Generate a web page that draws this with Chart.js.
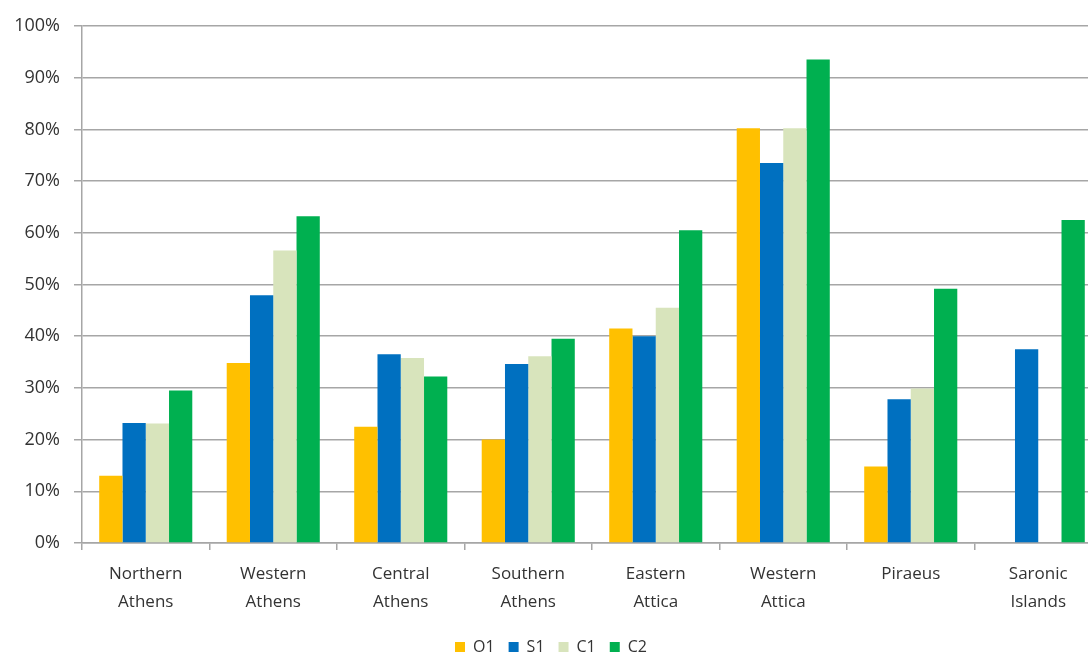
<!DOCTYPE html>
<html>
<head>
<meta charset="utf-8">
<script src="https://cdn.jsdelivr.net/npm/chart.js@4"></script>
<style>
  html, body { margin: 0; padding: 0; background: #fff; overflow: hidden; }
  #wrap { width: 1130px; height: 655px; }
</style>
</head>
<body>
<div id="wrap"><canvas id="chart" width="1130" height="655"></canvas></div>
<script>
const regions = [
    ["Northern", "Athens"], ["Western", "Athens"], ["Central", "Athens"], ["Southern", "Athens"],
    ["Eastern", "Attica"], ["Western", "Attica"], "Piraeus", ["Saronic", "Islands"]
];
const seriesNames = ["O1", "S1", "C1", "C2"];
const seriesColors = ["#ffc000", "#0070c0", "#d8e4bc", "#00b050"];

// share of each region, in percent
const valuesO1 = [13.0, 34.8, 22.5, 20.0, 41.5, 80.2, 14.8, null];
const valuesS1 = [23.2, 47.9, 36.5, 34.6, 40.0, 73.5, 27.8, 37.5];
const valuesC1 = [23.1, 56.6, 35.8, 36.1, 45.5, 80.2, 29.9, null];
const valuesC2 = [29.5, 63.2, 32.2, 39.5, 60.5, 93.5, 49.2, 62.5];

const yTicks = [0, 10, 20, 30, 40, 50, 60, 70, 80, 90, 100];

const allValues = [valuesO1, valuesS1, valuesC1, valuesC2];
const gridColor = "#a6a6a6";
const textColor = "#333333";

Chart.defaults.font.family = "'Open Sans', 'DejaVu Sans', sans-serif";
Chart.defaults.font.size = 16;
Chart.defaults.color = textColor;

new Chart(document.getElementById("chart"), {
    type: "bar",
    data: {
        labels: regions,
        datasets: seriesNames.map((name, i) => ({
            label: name,
            data: allValues[i],
            backgroundColor: seriesColors[i],
            borderWidth: 0,
            categoryPercentage: 0.73,
            barPercentage: 1.0
        }))
    },
    options: {
        responsive: false,
        animation: false,
        devicePixelRatio: 1,
        layout: { padding: { top: 26, right: 28, left: 0, bottom: -10 } },
        plugins: {
            tooltip: { enabled: false },
            legend: {
                position: "bottom",
                labels: {
                    boxWidth: 10,
                    boxHeight: 10,
                    padding: 14,
                    font: { size: 16 },
                    color: textColor
                }
            }
        },
        scales: {
            x: {
                offset: true,
                grid: {
                    offset: true,
                    drawOnChartArea: false,
                    drawTicks: true,
                    tickLength: 7,
                    color: gridColor,
                    lineWidth: 1.5
                },
                border: { color: gridColor, width: 1.5 },
                ticks: {
                    padding: 11,
                    maxRotation: 0,
                    autoSkip: false,
                    font: { size: 17, lineHeight: 1.6 }
                },
                afterFit: function(scale) { scale.height = 82; }
            },
            y: {
                min: 0,
                max: 100,
                afterBuildTicks: function(scale) {
                    scale.ticks = yTicks.map(v => ({ value: v }));
                },
                grid: {
                    color: gridColor,
                    lineWidth: 1.5,
                    tickLength: 8
                },
                border: { color: gridColor, width: 1.5 },
                ticks: {
                    padding: 14,
                    font: { size: 18 },
                    callback: v => v + "%"
                },
                afterFit: function(scale) { scale.width = 82; }
            }
        }
    }
});
</script>
</body>
</html>
